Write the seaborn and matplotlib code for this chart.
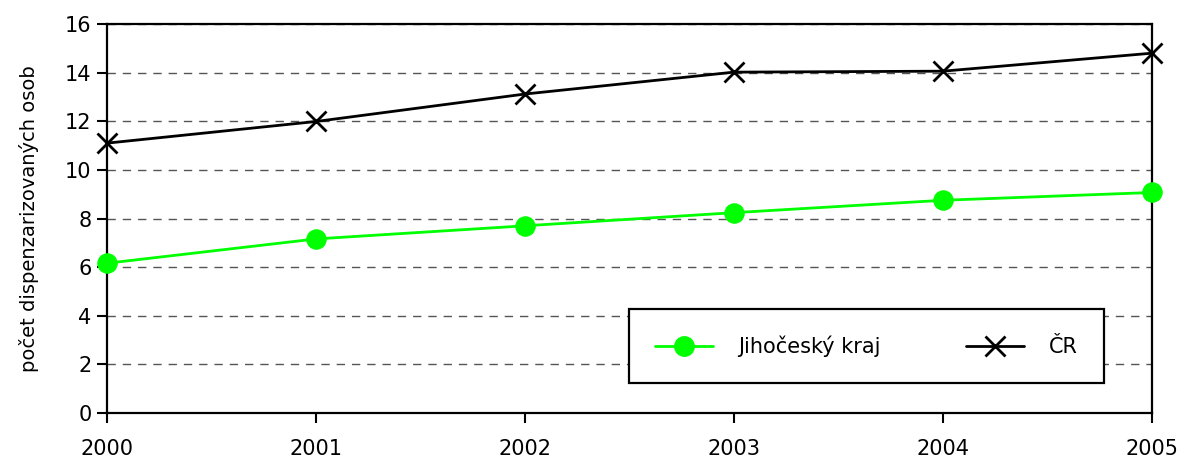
import matplotlib
matplotlib.use("Agg")
import matplotlib.pyplot as plt
import seaborn as sns
import pandas as pd
from matplotlib import font_manager

years = [2000, 2001, 2002, 2003, 2004, 2005]
jihocesky = [6.16, 7.16, 7.70, 8.24, 8.75, 9.07]
cr = [11.10, 11.99, 13.12, 14.02, 14.06, 14.80]
series_names = ["Jihočeský kraj", "ČR"]
y_ticks = [0, 2, 4, 6, 8, 10, 12, 14, 16]
y_label = "počet dispenzarizovaných osob"

sns.set_style("ticks")
installed = {f.name for f in font_manager.fontManager.ttflist}
family = ["Liberation Sans Narrow", "DejaVu Sans"] if "Liberation Sans Narrow" in installed \
    else ["DejaVu Sans Condensed", "DejaVu Sans"]
plt.rcParams["font.family"] = family
plt.rcParams["text.color"] = "black"
plt.rcParams["axes.labelcolor"] = "black"
plt.rcParams["xtick.color"] = "black"
plt.rcParams["ytick.color"] = "black"

df_j = pd.DataFrame({"rok": years, "hodnota": jihocesky})
df_c = pd.DataFrame({"rok": years, "hodnota": cr})

fig = plt.figure(figsize=(11.88, 4.67), dpi=100)
ax = fig.add_axes([0.090, 0.1156, 0.8797, 0.833])

ax.yaxis.grid(True, linestyle=(0, (6, 5)), color="#555555", linewidth=1.0)
ax.set_axisbelow(True)

sns.lineplot(data=df_j, x="rok", y="hodnota", color="#00ff00", marker="o",
             markersize=14, markeredgecolor="#00ff00", linewidth=2.0,
             ax=ax, legend=False, zorder=3, clip_on=False)
sns.lineplot(data=df_c, x="rok", y="hodnota", color="black", marker="x",
             markersize=14, markeredgewidth=2.0, markeredgecolor="black",
             linewidth=2.0, ax=ax, legend=False, zorder=3, clip_on=False)

ax.set_xlim(years[0], years[-1])
ax.set_ylim(y_ticks[0], y_ticks[-1])
ax.set_yticks(y_ticks)
ax.set_xticks(years)
ax.set_xticklabels([str(y) for y in years])
ax.set_xlabel("")
ax.set_ylabel(y_label, fontsize=14, labelpad=19)

for side in ["left", "right", "top", "bottom"]:
    ax.spines[side].set_visible(True)
    ax.spines[side].set_color("black")
    ax.spines[side].set_linewidth(1.6)

ax.tick_params(axis="y", direction="out", length=7, width=1.5, labelsize=15, pad=4)
ax.tick_params(axis="x", direction="out", length=7, width=1.5, labelsize=15, pad=12)

handles = [
    plt.Line2D([], [], color="#00ff00", marker="o", markersize=14,
               markeredgecolor="#00ff00", linewidth=2.0),
    plt.Line2D([], [], color="black", marker="x", markersize=14,
               markeredgewidth=2.0, markeredgecolor="black", linewidth=2.0),
]
leg = ax.legend(handles, series_names, ncol=2, loc="lower left",
                bbox_to_anchor=(0.4995, 0.077, 0.4545, 0.201), mode="expand",
                fontsize=15, frameon=True, fancybox=False, handlelength=2.8,
                handletextpad=1.2, columnspacing=3.0, borderpad=1.25,
                borderaxespad=0)
leg.get_frame().set_edgecolor("black")
leg.get_frame().set_linewidth(1.6)
leg.get_frame().set_alpha(1)

fig.savefig("out.png", dpi=100)
